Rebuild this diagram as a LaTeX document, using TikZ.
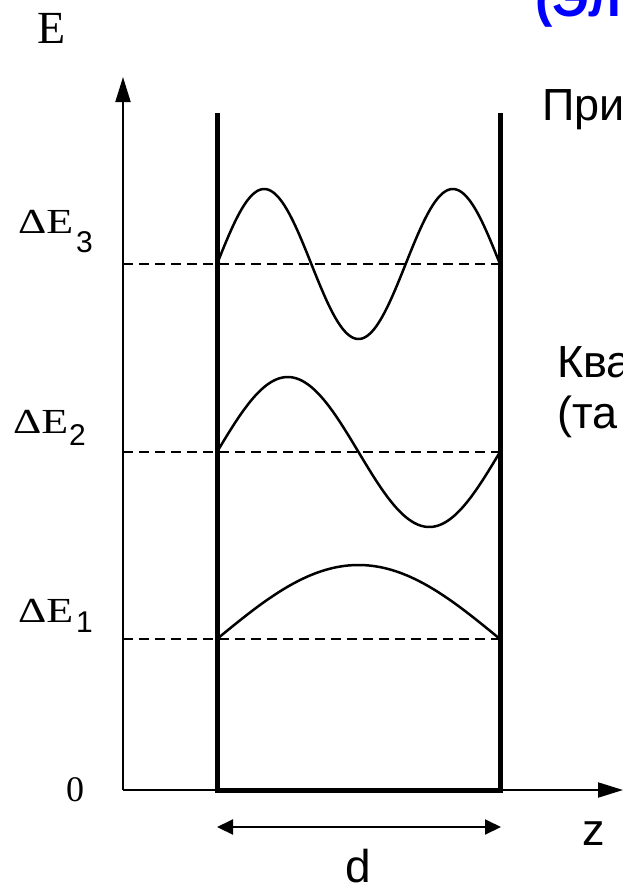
\documentclass[tikz,border=0pt]{standalone}
\usepackage{fontspec}
\setmainfont{Liberation Serif}
\setsansfont{Liberation Sans}
\usetikzlibrary{arrows.meta}
\begin{document}
\begin{tikzpicture}[x=1pt,y=-1pt,
  axisline/.style={line width=2pt,-{Triangle[length=25pt,width=15pt]}},
  wall/.style={line width=5pt},
  level/.style={line width=2.3pt,dash pattern=on 10pt off 6pt},
  wave/.style={line width=2.5pt},
  dimline/.style={line width=2pt,{Triangle[length=16pt,width=15pt]}-{Triangle[length=16pt,width=15pt]}},
  lbl/.style={inner sep=0pt,anchor=base west},
  sub/.style={lbl,font=\sffamily\fontsize{30}{30}\selectfont},
  stxt/.style={lbl,font=\sffamily\fontsize{45}{54}\selectfont}]
\newcommand{\myDE}{\scalebox{1}[0.8]{\fontsize{44}{44}\selectfont ΔE}}
\clip (0,0) rectangle (623,887);
\fill[white] (0,0) rectangle (623,887);
% coordinates
\coordinate (O) at (123,790);
\coordinate (ytip) at (123,77);
\coordinate (xtip) at (623,790);
\coordinate (wlb) at (217,790);
\coordinate (wlt) at (217,113);
\coordinate (wrb) at (500,790);
\coordinate (wrt) at (500,113);
\coordinate (l1a) at (123,639);
\coordinate (l1b) at (500,639);
\coordinate (l2a) at (123,452);
\coordinate (l2b) at (500,452);
\coordinate (l3a) at (123,264);
\coordinate (l3b) at (500,264);
\coordinate (da) at (217,827);
\coordinate (db) at (501,827);
% axes
\draw[axisline] (O) -- (ytip);
\draw[axisline] (O) -- (xtip);
% levels
\draw[level] (l1a) -- (l1b);
\draw[level] (l2a) -- (l2b);
\draw[level] (l3a) -- (l3b);
% walls
\draw[wall,line join=miter] (wlt) -- (wlb) -- (wrb) -- (wrt);
% waves (t runs 0..1 across the well)
\draw[wave] plot[domain=0:1,samples=120,variable=\t] ({217+283*\t},{639-74*sin(180*\t)});
\draw[wave] plot[domain=0:1,samples=120,variable=\t] ({217+283*\t},{452-75*sin(360*\t)});
\draw[wave] plot[domain=0:1,samples=160,variable=\t] ({217+283*\t},{264-75*sin(540*\t)});
% dimension
\draw[dimline] (da) -- (db);
% labels
\node[lbl,font=\fontsize{46}{46}\selectfont] (E) at (37,43) {E};
\node[lbl] (dE3) at (18,233) {\myDE};
\node[sub] (s3) at (76,252) {3};
\node[lbl] (dE2) at (13,433) {\myDE};
\node[sub] (s2) at (69,445) {2};
\node[lbl] (dE1) at (18,622) {\myDE};
\node[sub] (s1) at (76,632) {1};
\node[lbl,font=\fontsize{36}{36}\selectfont] (zero) at (66,801) {0};
\node[lbl,font=\sffamily\fontsize{46}{46}\selectfont] (d) at (345,882) {d};
\node[lbl,font=\sffamily\fontsize{45}{45}\selectfont] (z) at (582,845) {z};
% right texts (cut off by the frame)
\node[stxt] (t1) at (542,120) {При};
\node[stxt] (t2) at (557,377) {Ква};
\node[stxt] (t3) at (557,428) {(та};
\node[lbl,font=\sffamily\bfseries\fontsize{52}{52}\selectfont,text={rgb,255:red,0;green,0;blue,255}] (t0) at (535,16) {(Эл};
\end{tikzpicture}
\end{document}
